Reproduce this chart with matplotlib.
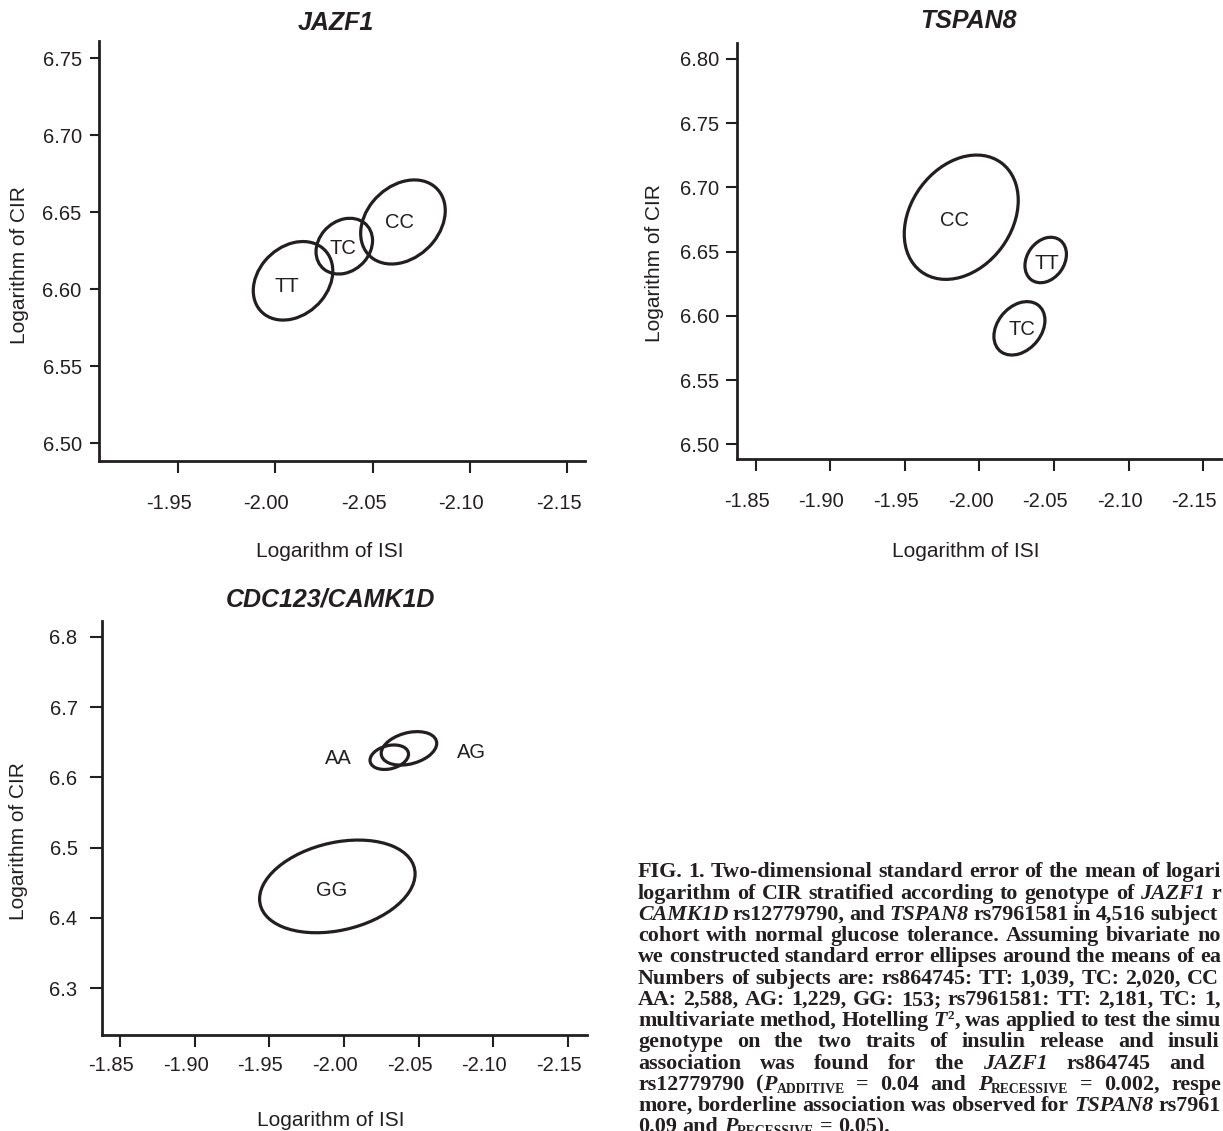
import re
import numpy as np
import matplotlib
matplotlib.use("Agg")
import matplotlib.pyplot as plt
from matplotlib.patches import Circle
from matplotlib.transforms import Affine2D, IdentityTransform, ScaledTranslation

plt.rcParams['font.family'] = ['Liberation Sans', 'DejaVu Sans']
plt.rcParams['axes.unicode_minus'] = False

INK = '#231f20'

# ---- JAZF1 rs864745 (means, SEs, correlation of log ISI / log CIR) ----
jazf1_geno = ['TT', 'TC', 'CC']
jazf1_isi = [-2.0092, -2.0355, -2.0656]
jazf1_cir = [6.6055, 6.6280, 6.6437]
jazf1_se_isi = [0.0204, 0.0145, 0.0217]
jazf1_se_cir = [0.0255, 0.0181, 0.0273]
jazf1_rho = [-0.25, -0.20, -0.27]
jazf1_lab_x = [-2.0060, -2.0350, -2.0638]
jazf1_lab_y = [6.6021, 6.6266, 6.6433]

# ---- TSPAN8 rs7961581 ----
tspan8_geno = ['CC', 'TT', 'TC']
tspan8_isi = [-1.9878, -2.0444, -2.0268]
tspan8_cir = [6.6768, 6.6435, 6.5903]
tspan8_se_isi = [0.0382, 0.0139, 0.0171]
tspan8_se_cir = [0.0484, 0.0177, 0.0208]
tspan8_rho = [-0.27, -0.25, -0.30]
tspan8_lab_x = [-1.9836, -2.0454, -2.0283]
tspan8_lab_y = [6.6741, 6.6409, 6.5895]

# ---- CDC123/CAMK1D rs12779790 ----
cdc_geno = ['AA', 'AG', 'GG']
cdc_isi = [-2.0304, -2.0436, -1.9956]
cdc_cir = [6.6286, 6.6412, 6.4449]
cdc_se_isi = [0.0129, 0.0186, 0.0521]
cdc_se_cir = [0.0174, 0.0238, 0.0659]
cdc_rho = [-0.25, -0.30, -0.27]
cdc_lab_x = [-1.9963, -2.0857, -1.9916]
cdc_lab_y = [6.6270, 6.6350, 6.4397]

xticks_jazf1 = [-1.95, -2.00, -2.05, -2.10, -2.15]
xticks_wide = [-1.85, -1.90, -1.95, -2.00, -2.05, -2.10, -2.15]
yticks_jazf1 = [6.50, 6.55, 6.60, 6.65, 6.70, 6.75]
yticks_tspan8 = [6.50, 6.55, 6.60, 6.65, 6.70, 6.75, 6.80]
yticks_cdc = [6.3, 6.4, 6.5, 6.6, 6.7, 6.8]

W, H = 1223, 1131
fig = plt.figure(figsize=(W / 100, H / 100), dpi=100)


def px_rect(left, top, right, bottom):
    return [left / W, 1 - bottom / H, (right - left) / W, (bottom - top) / H]


def panel(rect, title, geno, isi, cir, se_isi, se_cir, rho, lab_x, lab_y,
          xlim, ylim, xticks, yticks, yfmt, lay):
    ax = fig.add_axes(rect)
    for k, g in enumerate(geno):
        r = rho[k]
        m = np.array([[se_isi[k], 0, isi[k]],
                      [se_cir[k] * r, se_cir[k] * np.sqrt(1 - r * r), cir[k]],
                      [0, 0, 1]])
        ax.add_patch(Circle((0, 0), 1, fill=False, ec=INK, lw=2.3,
                            transform=Affine2D(m) + ax.transData))
        ax.text(lab_x[k], lab_y[k], g, ha='center', va='center',
                fontsize=14.5, color=INK)
    ax.set_xlim(*xlim)
    ax.set_ylim(*ylim)
    ax.set_xticks(xticks)
    ax.set_xticklabels([f'{v:.2f}' for v in xticks])
    ax.set_yticks(yticks)
    ax.set_yticklabels([yfmt.format(v) for v in yticks])
    for s in ['top', 'right']:
        ax.spines[s].set_visible(False)
    for s in ['left', 'bottom']:
        ax.spines[s].set_linewidth(2.0)
        ax.spines[s].set_color(INK)
    ax.tick_params(axis='x', length=8.6, width=1.5, pad=lay['xpad'],
                   labelsize=14.5, colors=INK)
    ax.tick_params(axis='y', length=lay['ylen'], width=1.5, pad=lay['ypad'],
                   labelsize=14.5, colors=INK)
    # x tick labels sit a little left of their ticks in the original
    shift = ScaledTranslation(-9 / 100, 0, fig.dpi_scale_trans)
    for lab in ax.get_xticklabels():
        lab.set_transform(lab.get_transform() + shift)
    ax.set_xlabel('Logarithm of ISI', fontsize=15, color=INK)
    ax.set_ylabel('Logarithm of CIR', fontsize=15, color=INK)
    ax.xaxis.set_label_coords(*lay['xl'])
    ax.xaxis.label.set_va('center')
    ax.yaxis.set_label_coords(*lay['yl'])
    ax.yaxis.label.set_va('center')
    ax.text(lay['t'][0], lay['t'][1], title, transform=ax.transAxes,
            ha='center', va='center', fontsize=18, weight='bold',
            style='italic', color=INK)
    return ax


panel(px_rect(99.3, 41, 585, 460.7), 'JAZF1', jazf1_geno, jazf1_isi, jazf1_cir,
      jazf1_se_isi, jazf1_se_cir, jazf1_rho, jazf1_lab_x, jazf1_lab_y,
      (-1.9098, -2.159), (6.4887, 6.7612), xticks_jazf1, yticks_jazf1, '{:.2f}',
      dict(xpad=15.5, ylen=6.7, ypad=6, xl=(0.475, -0.217), yl=(-0.165, 0.466),
           t=(0.487, 1.043)))

panel(px_rect(736.7, 43.3, 1221, 458.7), 'TSPAN8', tspan8_geno, tspan8_isi,
      tspan8_cir, tspan8_se_isi, tspan8_se_cir, tspan8_rho, tspan8_lab_x,
      tspan8_lab_y, (-1.8373, -2.1619), (6.4888, 6.8122), xticks_wide,
      yticks_tspan8, '{:.2f}',
      dict(xpad=15.5, ylen=8, ypad=4.3, xl=(0.472, -0.224), yl=(-0.170, 0.470),
           t=(0.479, 1.054)))

panel(px_rect(101.7, 621, 586.7, 1035), 'CDC123/CAMK1D', cdc_geno, cdc_isi,
      cdc_cir, cdc_se_isi, cdc_se_cir, cdc_rho, cdc_lab_x, cdc_lab_y,
      (-1.8377, -2.1627), (6.2336, 6.8223), xticks_wide, yticks_cdc, '{:.1f}',
      dict(xpad=6.5, ylen=8.4, ypad=9, xl=(0.4716, -0.207), yl=(-0.171, 0.469),
           t=(0.472, 1.051)))

# ---- figure legend text, as far as it is visible on the cropped page ----
caption = [
    "FIG. 1. Two-dimensional standard error of the mean of logari",
    "logarithm of CIR stratified according to genotype of *JAZF1* r",
    "*CAMK1D* rs12779790, and *TSPAN8* rs7961581 in 4,516 subject",
    "cohort with normal glucose tolerance. Assuming bivariate no",
    "we constructed standard error ellipses around the means of ea",
    "Numbers of subjects are: rs864745: TT: 1,039, TC: 2,020, CC",
    "AA: 2,588, AG: 1,229, GG: 153; rs7961581: TT: 2,181, TC: 1,",
    "multivariate method, Hotelling *T*^{2}, was applied to test the simu",
    "genotype on the two traits of insulin release and insuli",
    "association was found for the *JAZF1* rs864745 and",
    "rs12779790 (*P*_{ADDITIVE} = 0.04 and *P*_{RECESSIVE} = 0.002, respe",
    "more, borderline association was observed for *TSPAN8* rs7961",
    "0.09 and *P*_{RECESSIVE} = 0.05).",
]
cap_justify = [True] * 12 + [False]
cap_right = [1221, 1221, 1217, 1221, 1221, 1219, 1221, 1221, 1219, 1205, 1221, 1221, 0]

renderer = fig.canvas.get_renderer()
cap_font = dict(family=['Liberation Serif', 'DejaVu Serif'],
                weight='bold', color=INK)


def wpx(t):
    return t.get_window_extent(renderer).width


probe = fig.text(0, 0, "FIG. 1. Two-dimensional standard error of the mean",
                 size=10, **cap_font)
cap_size = 10 * 495 / wpx(probe)
probe.remove()
p1 = fig.text(0, 0, "n n", size=cap_size, **cap_font)
p2 = fig.text(0, 0, "nn", size=cap_size, **cap_font)
space = wpx(p1) - wpx(p2)
p1.remove()
p2.remove()

token = re.compile(r'\*([^*]+)\*|_\{([^}]+)\}|\^\{([^}]+)\}|([^*_^]+)')
x0, base0, lead = 638.0, H - 877.3, 21.25
for i, line in enumerate(caption):
    y = base0 - i * lead
    words = []
    for word in line.split(' '):
        pieces, ww = [], 0.0
        for m in token.finditer(word):
            ital, sub, sup, plain = m.groups()
            if ital:
                t, dx, dy = fig.text(0, 0, ital, size=cap_size, style='italic',
                                     **cap_font), 0, 0
            elif sub:
                t, dx, dy = fig.text(0, 0, sub, size=cap_size * 0.62,
                                     **cap_font), 0, -3
            elif sup:
                t, dx, dy = fig.text(0, 0, sup, size=cap_size * 0.6,
                                     **cap_font), 1, 7
            else:
                t, dx, dy = fig.text(0, 0, plain, size=cap_size, **cap_font), 0, 0
            t.set_transform(IdentityTransform())
            t.set_va('baseline')
            pieces.append((t, ww + dx, dy))
            ww += wpx(t) + dx
        words.append((pieces, ww))
    total = sum(w for _, w in words)
    gap = space
    if cap_justify[i] and len(words) > 1:
        gap = max((cap_right[i] - x0 - total) / (len(words) - 1), 0.45 * space)
    x = x0
    for pieces, ww in words:
        for t, dx, dy in pieces:
            t.set_position((x + dx, y + dy))
        x += ww + gap

fig.savefig('out.png', dpi=100)
